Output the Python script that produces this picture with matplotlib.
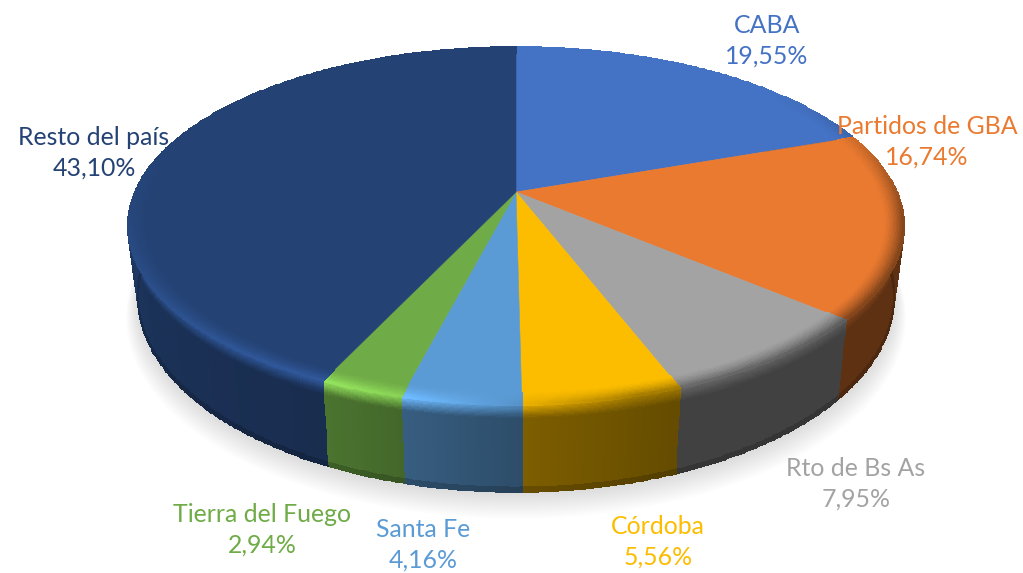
import numpy as np
import matplotlib
matplotlib.use("Agg")
import matplotlib.pyplot as plt
from matplotlib.colors import to_rgb
from matplotlib.path import Path
from matplotlib.transforms import Transform, Affine2D

categories = ["CABA", "Partidos de GBA", "Rto de Bs As", "Córdoba", "Santa Fe", "Tierra del Fuego", "Resto del país"]
values = [19.55, 16.74, 7.95, 5.56, 4.16, 2.94, 43.10]
colors = ["#4472C4", "#EA7A30", "#A3A3A3", "#FCBD00", "#5B9BD5", "#6FAB46", "#244274"]
label_pos = [(767, 41), (927, 142), (856, 484), (658, 542), (423, 545), (262, 530), (94, 153)]

CX, K = 516.0, 0.19
TOP = dict(b=381.0, a=172.5, y0=192.0)
BOT = dict(b=371.0, a=187.0, y0=261.0)


def project(x, y, g):
    d = 1 + K * y
    return CX + g["b"] * x / d, g["y0"] - g["a"] * y / d


class PieProjection(Transform):
    input_dims = output_dims = 2
    is_affine = False
    has_inverse = False

    def __init__(self, g):
        super().__init__()
        self.g = g

    def transform_non_affine(self, v):
        v = np.asarray(v, float)
        return np.column_stack(project(v[:, 0], v[:, 1], self.g))

    def transform_path_non_affine(self, path):
        poly = path.transformed(Affine2D().scale(2000)).to_polygons(closed_only=True)[0] / 2000
        return Path(self.transform_non_affine(poly), closed=True)


fig = plt.figure(figsize=(10.23, 5.73), dpi=100)
ax = fig.add_axes([0, 0, 1, 1])


def rim_shade(th):      # side darkening by clockwise angle
    return np.interp(th, [90, 130, 160, 180, 205, 235, 255, 275],
                     [.40, .40, .40, .50, .68, .74, .80, .92])


def rim_light(th):      # bevel tint at the edge of the top face
    return np.interp(th, [0, 50, 75, 100, 130, 165, 185, 195, 205, 220, 240, 262, 285, 360],
                     [1.0, 1.0, .85, .55, .55, .65, 1.05, 1.25, 1.35, 1.3, 1.2, 1.08, 1.0, 1.0])


edges = 360 * np.cumsum([0] + values) / np.sum(values)

# soft shadow under the disc
th = np.radians(np.linspace(0, 360, 361))
for i in range(18):
    f = 1.0 + 0.0018 * i
    px, py = project(np.sin(th) * f, np.cos(th) * f, BOT)
    ax.fill(px, py + 1 + 1.0 * i, color="0.55", alpha=0.016, lw=0, zorder=1)

# side walls
for i, c in enumerate(colors):
    base = np.array(to_rgb(c))
    ang = np.linspace(edges[i], edges[i + 1], max(3, int(edges[i + 1] - edges[i]) * 2 + 1))
    tt = np.concatenate([np.linspace(0, .16, 13), [.3, .6, .95, 1.0]])
    rad = np.radians(ang)
    xt, yt = project(np.sin(rad), np.cos(rad), TOP)
    xb, yb = project(np.sin(rad), np.cos(rad), BOT)
    X = np.outer(1 - tt, xt) + np.outer(tt, xb)
    Y = np.outer(1 - tt, yt) + np.outer(tt, yb)
    mid = (ang[:-1] + ang[1:]) / 2
    tm = (tt[:-1] + tt[1:]) / 2
    s = rim_shade(mid)
    l = rim_light(mid)
    C = np.zeros((len(tm), len(mid), 3))
    for a in range(len(tm)):
        w = min(tm[a] / .16, 1)
        f = (1 - w) * l + w * s
        if tm[a] > .95:
            f = f * .82
        C[a, :, :] = np.clip(base[None, :] * f[:, None], 0, 1)
    ax.pcolormesh(X, Y, C, edgecolors="face", linewidth=0.3, zorder=2)

# top face: the pie itself, projected
wedges, _ = ax.pie(values, colors=colors, startangle=90, counterclock=False, radius=1, frame=True)
proj = PieProjection(TOP)
for w in wedges:
    w.set_transform(proj + ax.transData)
    w.set_edgecolor(w.get_facecolor())
    w.set_linewidth(0.4)
    w.set_zorder(3)

# bevel at the rim of the top face
for i, c in enumerate(colors):
    base = np.array(to_rgb(c))
    ang = np.linspace(edges[i], edges[i + 1], max(3, int(edges[i + 1] - edges[i]) * 2 + 1))
    rr = np.linspace(.95, 1.0, 15)
    rad = np.radians(ang)
    X = np.zeros((len(rr), len(ang)))
    Y = X.copy()
    for a, r in enumerate(rr):
        X[a], Y[a] = project(r * np.sin(rad), r * np.cos(rad), TOP)
    mid = (ang[:-1] + ang[1:]) / 2
    rm = (rr[:-1] + rr[1:]) / 2
    C = np.zeros((len(rm), len(mid), 3))
    for a in range(len(rm)):
        w = ((rm[a] - .95) / .05) ** 1.5
        f = 1 + w * (rim_light(mid) - 1)
        C[a] = np.clip(base[None, :] * f[:, None], 0, 1)
    ax.pcolormesh(X, Y, C, edgecolors="face", linewidth=0.2, zorder=4)

ax.set_aspect("auto")
ax.set_xlim(0, 1023)
ax.set_ylim(573, 0)
ax.axis("off")

for name, v, c, (x, y) in zip(categories, values, colors, label_pos):
    ax.text(x, y, f"{name}\n{v:.2f}%".replace(".", ","), color=c, ha="center", va="center",
            fontsize=17.9, family="Lato", linespacing=1.38, zorder=6)

fig.savefig("out.png", dpi=100)
